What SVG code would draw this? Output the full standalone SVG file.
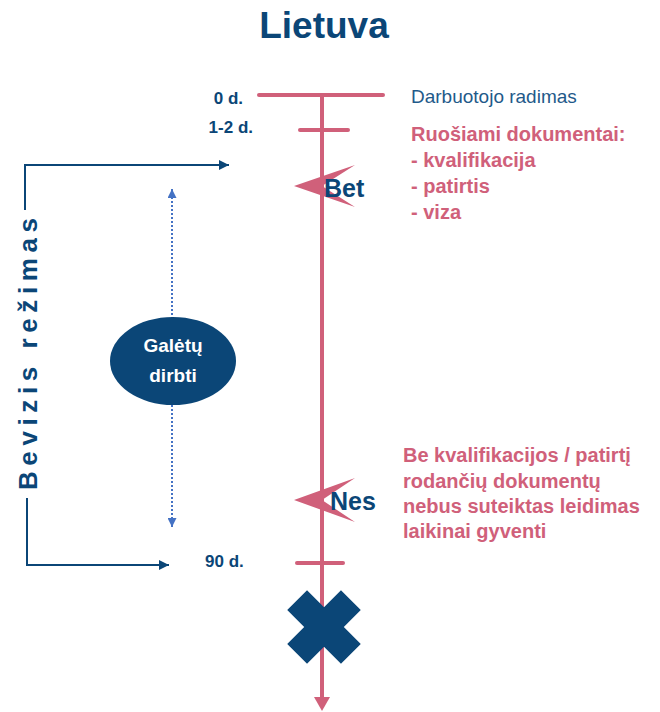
<svg xmlns="http://www.w3.org/2000/svg" width="660" height="712" viewBox="0 0 660 712">
<style>
text{font-family:"Liberation Sans",Arial,sans-serif}
.pink{stroke:#d0607a;stroke-width:4;stroke-linecap:round;fill:none}
.pinkfill{fill:#d0607a}
.navy{fill:#0b4677}
.day{font-size:17px;font-weight:bold;fill:#0b4677}
.pt{font-size:20px;font-weight:bold;fill:#d0607a}
.bk{stroke:#0b4677;stroke-width:2;fill:none}
.dot{stroke:#4472c4;stroke-width:2;stroke-dasharray:2 2;fill:none}
.kw{font-size:25px;font-weight:bold;fill:#0b4677}
</style>
<defs>
<marker id="ah" viewBox="0 0 10 10" refX="10" refY="5" markerWidth="10" markerHeight="10" markerUnits="userSpaceOnUse" orient="auto"><path d="M0,0 L10,5 L0,10 Z" fill="#0b4677"/></marker>
<marker id="ab" viewBox="0 0 10 10" refX="10" refY="5" markerWidth="9" markerHeight="9" markerUnits="userSpaceOnUse" orient="auto"><path d="M0,0 L10,5 L0,10 Z" fill="#4472c4"/></marker>
</defs>
<text x="324" y="38" text-anchor="middle" font-size="37" font-weight="bold" fill="#0b4677">Lietuva</text>
<g id="connectors">
<line class="pink" x1="322" y1="95" x2="322" y2="698"/>
<path class="pinkfill" d="M314,697 L330,697 L322,711 Z"/>
<path class="bk" d="M25,210 V165 H229" marker-end="url(#ah)"/>
<path class="bk" d="M27,498 V565 H169" marker-end="url(#ah)"/>
<line class="dot" x1="172" y1="527" x2="172" y2="189" marker-end="url(#ab)"/>
<line class="dot" x1="172" y1="189" x2="172" y2="527" marker-end="url(#ab)"/>
</g>
<g id="tick0"><line class="pink" x1="259" y1="95" x2="383" y2="95"/><text class="day" x="243" y="104" text-anchor="end">0 d.</text><text x="411" y="103" font-size="19" fill="#1f5a8a">Darbuotojo radimas</text></g>
<g id="tick12"><line class="pink" x1="300" y1="130" x2="348" y2="130"/><text class="day" x="253" y="133" text-anchor="end">1-2 d.</text>
<text class="pt" x="411" y="141">Ruošiami dokumentai:</text>
<text class="pt" x="411" y="167">- kvalifikacija</text>
<text class="pt" x="411" y="193">- patirtis</text>
<text class="pt" x="411" y="219">- viza</text></g>
<g id="bet"><polygon class="pinkfill" points="355,165 294,186 355,207 322,186"/><text class="kw" x="324" y="197">Bet</text></g>
<g id="nes"><polygon class="pinkfill" points="355,478 294,500 355,522 322,500"/><text class="kw" x="330" y="510">Nes</text>
<text class="pt" x="403" y="462">Be kvalifikacijos / patirtį</text>
<text class="pt" x="403" y="488">rodančių dokumentų</text>
<text class="pt" x="403" y="513">nebus suteiktas leidimas</text>
<text class="pt" x="403" y="538">laikinai gyventi</text></g>
<g id="tick90"><line class="pink" x1="297" y1="563" x2="343" y2="563"/><text class="day" x="205" y="567">90 d.</text></g>
<g id="bevizis"><text transform="translate(37,354) rotate(-90)" text-anchor="middle" font-size="26" font-weight="bold" fill="#0b4677" textLength="272" lengthAdjust="spacing">Bevizis režimas</text></g>
<g id="galetu"><ellipse cx="173" cy="361" rx="63" ry="44" class="navy"/><text x="173" y="352" text-anchor="middle" font-size="19" font-weight="bold" fill="#fff">Galėtų</text><text x="173" y="382" text-anchor="middle" font-size="19" font-weight="bold" fill="#fff">dirbti</text></g>
<g id="cross"><polygon class="navy" transform="translate(324,627) rotate(45)" points="-14,-38 14,-38 14,-14 38,-14 38,14 14,14 14,38 -14,38 -14,14 -38,14 -38,-14 -14,-14"/></g>
</svg>
